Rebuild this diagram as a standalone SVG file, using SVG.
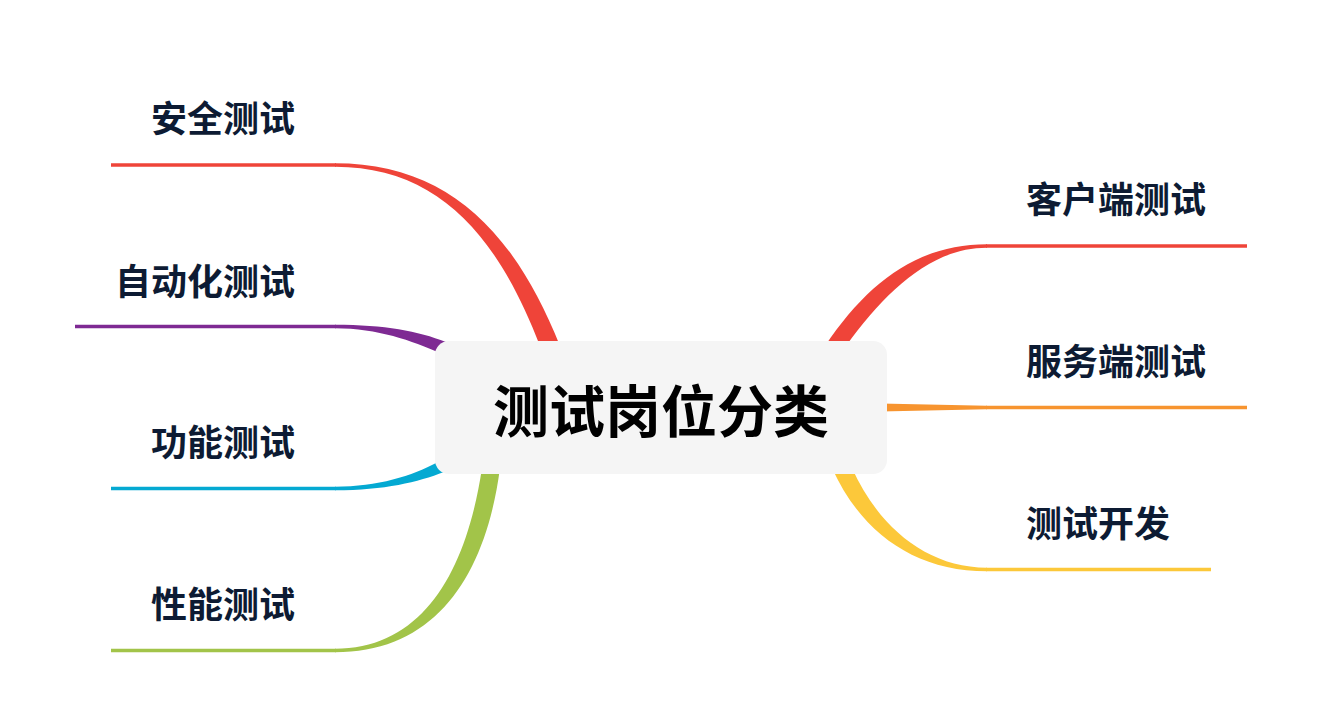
<svg xmlns="http://www.w3.org/2000/svg" width="1322" height="728" viewBox="0 0 1322 728">
<style>
.lbl{font-family:"Noto Sans CJK SC","Noto Sans",sans-serif;font-weight:bold;font-size:36px;fill:#0d1b33;dominant-baseline:central}
.title{font-family:"Noto Sans CJK SC","Noto Sans",sans-serif;font-weight:bold;font-size:56px;fill:#000;dominant-baseline:central;text-anchor:middle}
.ln{fill:none;stroke-width:3.5}
</style>
<rect width="1322" height="728" fill="#fff"/>
<g id="connectors">
  <!-- 安全测试 -->
  <line class="ln" x1="111" y1="165" x2="336" y2="165" stroke="#ef4439"/>
  <path d="M335,163.2 C445,163.2 513,228 560,346 L540,346 C498,236 438,166.8 335,166.8 Z" fill="#ef4439"/>
  <!-- 自动化测试 -->
  <line class="ln" x1="75" y1="326.5" x2="336" y2="326.5" stroke="#7e2a93"/>
  <path d="M335,324.7 C385,324.7 418,331 446,342 L440,353 C412,341 378,328.3 335,328.3 Z" fill="#7e2a93"/>
  <!-- 功能测试 -->
  <line class="ln" x1="111" y1="488.5" x2="336" y2="488.5" stroke="#04a9d2"/>
  <path d="M335,486.7 C378,486.7 412,476 438,462 L444,472 C418,482 385,490.3 335,490.3 Z" fill="#04a9d2"/>
  <!-- 性能测试 -->
  <line class="ln" x1="111" y1="650.5" x2="336" y2="650.5" stroke="#a2c449"/>
  <path d="M335,648.7 C425,648.7 467,568 482,468 L500,468 C486,574 437,652.3 335,652.3 Z" fill="#a2c449"/>
  <!-- 客户端测试 -->
  <line class="ln" x1="986" y1="246" x2="1247" y2="246" stroke="#ef4439"/>
  <path d="M987,244.2 C918,244.2 868,282 825,346 L846,346 C886,291 931,247.8 987,247.8 Z" fill="#ef4439"/>
  <!-- 服务端测试 -->
  <line class="ln" x1="986" y1="407.5" x2="1247" y2="407.5" stroke="#f7942f"/>
  <path d="M880,403.5 L987,405.7 L987,409.3 L880,411.5 Z" fill="#f7942f"/>
  <!-- 测试开发 -->
  <line class="ln" x1="986" y1="569.5" x2="1211" y2="569.5" stroke="#fcc83a"/>
  <path d="M987,571.3 C914,571.3 861,532 832,468 L852,468 C878,526 926,567.7 987,567.7 Z" fill="#fcc83a"/>
</g>
<g id="root">
  <rect x="435" y="341" width="452" height="133" rx="14" fill="#f5f5f5"/>
  <text class="title" x="661" y="407">测试岗位分类</text>
</g>
<g id="n-anquan"><text class="lbl" x="295" y="116" text-anchor="end">安全测试</text></g>
<g id="n-zidonghua"><text class="lbl" x="295" y="278.5" text-anchor="end">自动化测试</text></g>
<g id="n-gongneng"><text class="lbl" x="295" y="440" text-anchor="end">功能测试</text></g>
<g id="n-xingneng"><text class="lbl" x="295" y="602" text-anchor="end">性能测试</text></g>
<g id="n-kehuduan"><text class="lbl" x="1026" y="197">客户端测试</text></g>
<g id="n-fuwuduan"><text class="lbl" x="1026" y="359">服务端测试</text></g>
<g id="n-ceshikaifa"><text class="lbl" x="1026" y="521">测试开发</text></g>
</svg>
